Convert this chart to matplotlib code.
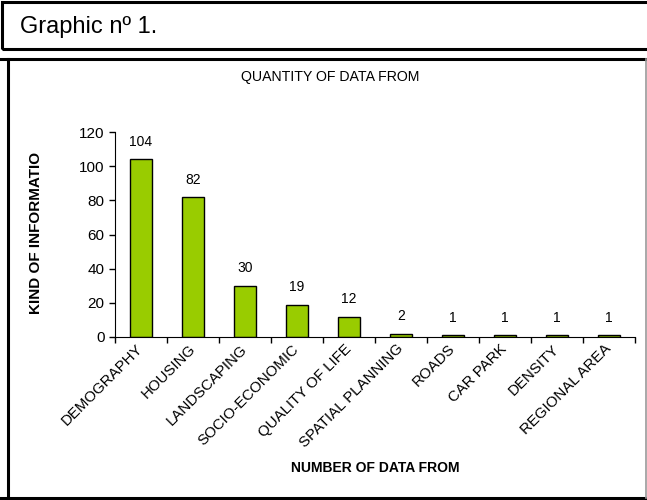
import numpy as np
import matplotlib.pyplot as plt
from matplotlib.patches import Rectangle
from matplotlib.lines import Line2D

plt.rcParams['font.family'] = ['Liberation Sans', 'DejaVu Sans']

categories = ['DEMOGRAPHY', 'HOUSING', 'LANDSCAPING', 'SOCIO-ECONOMIC',
              'QUALITY OF LIFE', 'SPATIAL PLANNING', 'ROADS', 'CAR PARK',
              'DENSITY', 'REGIONAL AREA']
counts = [104, 82, 30, 19, 12, 2, 1, 1, 1, 1]
yticks = [0, 20, 40, 60, 80, 100, 120]

W, H = 647, 500
fig = plt.figure(figsize=(W / 100, H / 100), dpi=100)

def fx(px):
    return px / W

def fy(py):
    return 1 - py / H

# header box
fig.patches.append(Rectangle((fx(2), fy(49)), fx(660) - fx(2), fy(2) - fy(49),
                             transform=fig.transFigure, fill=False,
                             edgecolor='black', linewidth=2.2))
fig.text(fx(20), fy(27), 'Graphic nº 1.', fontsize=17, va='center', ha='left')

# chart frame
fig.lines.append(Line2D([fx(0), fx(647)], [fy(59), fy(59)], transform=fig.transFigure,
                        color='black', linewidth=2.2))
fig.lines.append(Line2D([fx(8), fx(8)], [fy(59), fy(498)], transform=fig.transFigure,
                        color='black', linewidth=2.2))
fig.lines.append(Line2D([fx(0), fx(647)], [fy(498), fy(498)], transform=fig.transFigure,
                        color='black', linewidth=2.2))
fig.lines.append(Line2D([fx(646), fx(646)], [fy(59), fy(498)], transform=fig.transFigure,
                        color='#999999', linewidth=1.2))

ax = fig.add_axes([fx(115), fy(337), fx(635) - fx(115), fy(132) - fy(337)])
x = np.arange(len(categories))
ax.bar(x, counts, width=0.42, color='#99CC00', edgecolor='black', linewidth=1.0)
for xi, v in zip(x, counts):
    ax.text(xi, v + 6, str(v), ha='center', va='bottom', fontsize=10)

ax.set_xlim(-0.5, len(categories) - 0.5)
ax.set_ylim(0, 120)
ax.set_yticks(yticks)
ax.tick_params(axis='y', direction='out', length=4, labelsize=11, width=1)
ax.set_xticks(np.arange(len(categories) + 1) - 0.5)
ax.set_xticklabels([])
ax.tick_params(axis='x', which='major', direction='out', length=4, width=1)
ax.set_xticks(x, minor=True)
ax.set_xticklabels(categories, minor=True, rotation=45, ha='right', va='center',
                   rotation_mode='anchor', fontsize=10.8)
ax.tick_params(axis='x', which='minor', length=0, pad=7)

for s in ['top', 'right']:
    ax.spines[s].set_visible(False)

fig.text(fx(330), fy(77), 'QUANTITY OF DATA FROM', ha='center', va='center', fontsize=10.2)
fig.text(fx(36), fy(233), 'KIND OF INFORMATIO', rotation=90, ha='center', va='center',
         fontsize=11, fontweight='bold')
fig.text(fx(375), fy(468), 'NUMBER OF DATA FROM', ha='center', va='center',
         fontsize=10, fontweight='bold')

fig.savefig('out.png', dpi=100)
